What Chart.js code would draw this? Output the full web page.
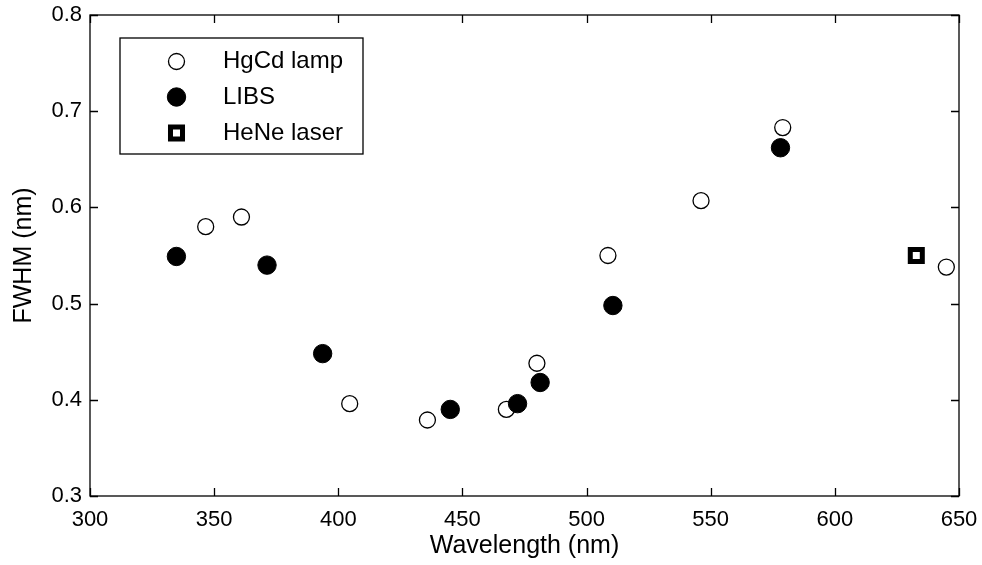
<!DOCTYPE html>
<html>
<head>
<meta charset="utf-8">
<title>FWHM vs wavelength</title>
<script src="https://cdn.jsdelivr.net/npm/chart.js@4.4.1/dist/chart.umd.min.js"></script>
<style>
  html, body { margin: 0; padding: 0; background: #fff; }
  #wrap { width: 982px; height: 565px; }
</style>
</head>
<body>
<div id="wrap"><canvas id="fwhm" width="982" height="565"></canvas></div>
<script>
// mediciones: longitud de onda (nm) y FWHM (nm)
const hgcdWavelength = [346.6, 361.0, 404.6, 435.9, 467.7, 480.0, 508.6, 546.1, 579.0, 644.9];
const hgcdFwhm       = [0.580, 0.590, 0.396, 0.379, 0.390, 0.438, 0.550, 0.607, 0.683, 0.538];

const libsWavelength = [334.8, 371.3, 393.7, 445.1, 472.2, 481.3, 510.6, 578.1];
const libsFwhm       = [0.549, 0.540, 0.448, 0.390, 0.396, 0.418, 0.498, 0.662];

const heneWavelength = [632.8];
const heneFwhm       = [0.550];

const seriesNames = ['HgCd lamp', 'LIBS', 'HeNe laser'];

const FONT = 'Liberation Sans, Arial, Helvetica, sans-serif';

function toPoints(xs, ys) {
  return xs.map((x, i) => ({ x: x, y: ys[i] }));
}

// marco de la grafica con marcas hacia adentro (estilo MATLAB)
const framePlugin = {
  id: 'frame',
  afterDraw(chart) {
    const { ctx, chartArea: a, scales } = chart;
    const len = 8;
    ctx.save();
    ctx.strokeStyle = '#000';
    ctx.lineWidth = 1.3;
    ctx.strokeRect(a.left, a.top, a.right - a.left, a.bottom - a.top);
    ctx.beginPath();
    scales.x.ticks.forEach((t) => {
      const px = Math.round(scales.x.getPixelForValue(t.value)) + 0.5;
      ctx.moveTo(px, a.bottom); ctx.lineTo(px, a.bottom - len);
      ctx.moveTo(px, a.top); ctx.lineTo(px, a.top + len);
    });
    scales.y.ticks.forEach((t) => {
      const py = Math.round(scales.y.getPixelForValue(t.value)) + 0.5;
      ctx.moveTo(a.left, py); ctx.lineTo(a.left + len, py);
      ctx.moveTo(a.right, py); ctx.lineTo(a.right - len, py);
    });
    ctx.stroke();
    ctx.restore();
  }
};

// leyenda con recuadro dentro del area de la grafica
const boxLegendPlugin = {
  id: 'boxLegend',
  afterDraw(chart) {
    const { ctx, chartArea: a } = chart;
    const bx = a.left + 30, by = a.top + 23, bw = 243, bh = 116;
    ctx.save();
    ctx.fillStyle = '#fff';
    ctx.fillRect(bx, by, bw, bh);
    ctx.strokeStyle = '#000';
    ctx.lineWidth = 1.3;
    ctx.strokeRect(bx, by, bw, bh);

    const rows = [by + 23.5, by + 59, by + 95];
    chart.data.datasets.forEach((ds, i) => {
      const y = rows[i];
      ctx.fillStyle = ds.backgroundColor;
      ctx.strokeStyle = ds.borderColor;
      ctx.lineWidth = ds.borderWidth;
      Chart.helpers.drawPoint(ctx, {
        pointStyle: ds.pointStyle,
        radius: ds.pointRadius,
        rotation: 0,
        borderWidth: ds.borderWidth
      }, bx + 56.5, y);
      ctx.fillStyle = '#000';
      ctx.font = '24px ' + FONT;
      ctx.textBaseline = 'middle';
      ctx.textAlign = 'left';
      ctx.fillText(seriesNames[i], bx + 103, y);
    });
    ctx.restore();
  }
};

new Chart(document.getElementById('fwhm'), {
  type: 'scatter',
  data: {
    datasets: [
      {
        label: seriesNames[0],
        data: toPoints(hgcdWavelength, hgcdFwhm),
        pointStyle: 'circle',
        pointRadius: 8,
        backgroundColor: '#fff',
        borderColor: '#000',
        borderWidth: 1.3,
        order: 3
      },
      {
        label: seriesNames[1],
        data: toPoints(libsWavelength, libsFwhm),
        pointStyle: 'circle',
        pointRadius: 9.2,
        backgroundColor: '#000',
        borderColor: '#000',
        borderWidth: 1,
        order: 2
      },
      {
        label: seriesNames[2],
        data: toPoints(heneWavelength, heneFwhm),
        pointStyle: 'rect',
        pointRadius: 8.5,
        backgroundColor: '#fff',
        borderColor: '#000',
        borderWidth: 5,
        order: 1
      }
    ]
  },
  options: {
    responsive: false,
    animation: false,
    layout: { padding: { top: 15, right: 23, left: 0, bottom: 0 } },
    plugins: {
      legend: { display: false },
      tooltip: { enabled: false }
    },
    scales: {
      x: {
        type: 'linear',
        min: 300,
        max: 650,
        grid: { display: false, drawTicks: false },
        border: { display: false },
        ticks: {
          stepSize: 50,
          padding: 11,
          color: '#000',
          font: { family: FONT, size: 22 },
          maxRotation: 0
        },
        title: {
          display: true,
          text: 'Wavelength (nm)',
          color: '#000',
          font: { family: FONT, size: 25 },
          padding: { top: 0, bottom: 4 }
        },
        afterFit(scale) {
          scale.height = 69;
          scale.paddingLeft = 0;
          scale.paddingRight = 0;
        }
      },
      y: {
        type: 'linear',
        min: 0.3,
        max: 0.8,
        grid: { display: false, drawTicks: false },
        border: { display: false },
        ticks: {
          stepSize: 0.1,
          padding: 8,
          color: '#000',
          font: { family: FONT, size: 22 },
          callback: (v) => v.toFixed(1)
        },
        title: {
          display: true,
          text: 'FWHM (nm)',
          color: '#000',
          font: { family: FONT, size: 25 },
          padding: { top: 9, bottom: 0 }
        },
        afterFit(scale) {
          scale.width = 90;
          scale.paddingTop = 0;
          scale.paddingBottom = 0;
        }
      }
    }
  },
  plugins: [framePlugin, boxLegendPlugin]
});
</script>
</body>
</html>
